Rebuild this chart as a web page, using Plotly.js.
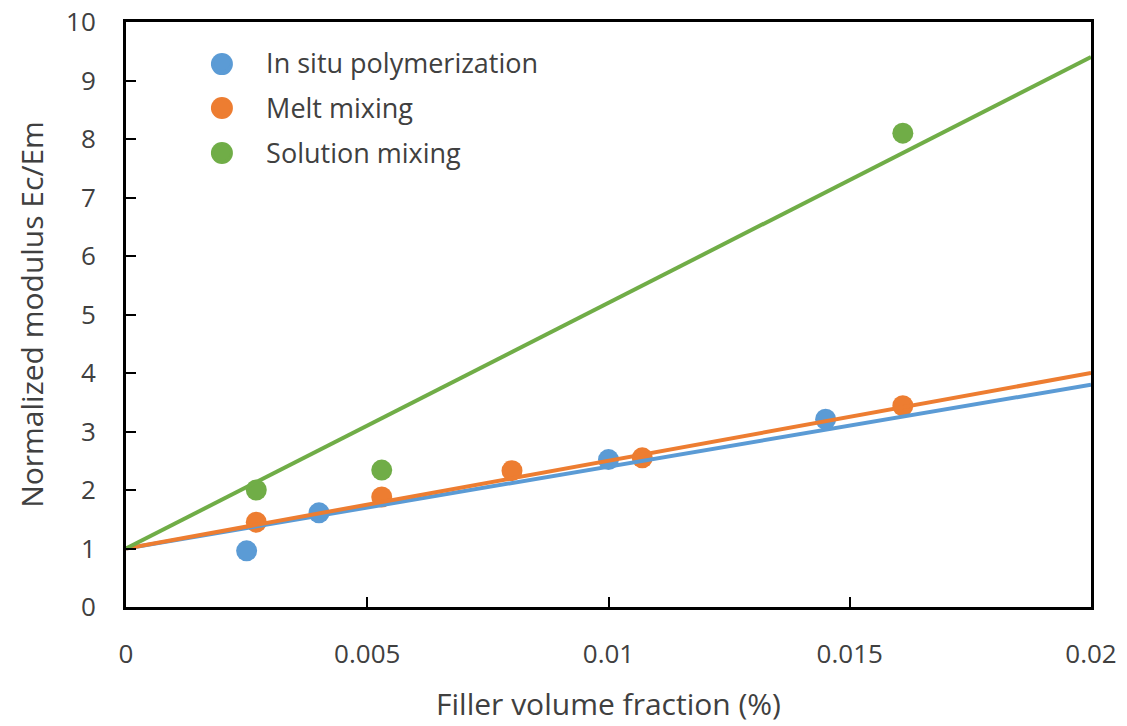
<!DOCTYPE html>
<html>
<head>
<meta charset="utf-8">
<script src="https://cdn.plot.ly/plotly-3.0.1.min.js"></script>
<style>html,body{margin:0;padding:0;background:#fff;}#chart{width:1127px;height:726px;}</style>
</head>
<body>
<div id="chart"></div>
<script>
// Data
const seriesNames = ["In situ polymerization", "Melt mixing", "Solution mixing"];
const inSituX = [0.0025, 0.0040, 0.0100, 0.0145];
const inSituY = [0.96, 1.61, 2.52, 3.21];
const meltX = [0.0027, 0.0053, 0.0080, 0.0107, 0.0161];
const meltY = [1.45, 1.88, 2.33, 2.55, 3.44];
const solutionX = [0.0027, 0.0053, 0.0161];
const solutionY = [2.00, 2.34, 8.10];
// Trendlines (forced through intercept 1)
const fitX = [0, 0.02];
const inSituFit = [1, 3.8];
const meltFit = [1, 4.0];
const solutionFit = [1, 9.4];
const xTicks = [0, 0.005, 0.01, 0.015, 0.02];
const xTickText = ["0", "0.005", "0.01", "0.015", "0.02"];
const yTicks = [0,1,2,3,4,5,6,7,8,9,10];

const colors = ["#5B9BD5", "#ED7D31", "#70AD47"];
const font = "Open Sans, Noto Sans, sans-serif";
const txt = "#404040";

function pts(x, y, i) {
  return {x: x, y: y, type: "scatter", mode: "markers", name: seriesNames[i],
    legendgroup: "g" + i,
    marker: {color: colors[i], size: 21}, cliponaxis: false};
}
function fit(y, i) {
  return {x: fitX, y: y, type: "scatter", mode: "lines", showlegend: false,
    line: {color: colors[i], width: 4}, hoverinfo: "skip"};
}
const data = [
  pts(inSituX, inSituY, 0), pts(meltX, meltY, 1), pts(solutionX, solutionY, 2),
  fit(inSituFit, 0), fit(meltFit, 1), fit(solutionFit, 2)
];
// enlarge legend symbols (Plotly caps them at 16px)
const legendSymX = 0.0994;
const legendSymY = [0.928, 0.853, 0.776];
const legendShapes = legendSymY.map((yy, i) => ({
  type: "circle", xref: "paper", yref: "paper",
  xsizemode: "pixel", ysizemode: "pixel",
  xanchor: legendSymX, yanchor: yy,
  x0: -11, x1: 11, y0: -11, y1: 11,
  fillcolor: colors[i], line: {width: 0}, layer: "above"
}));
const layout = {
  width: 1127, height: 726,
  margin: {l: 126, r: 36, t: 22, b: 119},
  paper_bgcolor: "#fff", plot_bgcolor: "#fff",
  font: {family: font, color: txt, size: 26},
  showlegend: true,
  shapes: legendShapes,
  legend: {x: 0.054, y: 0.972, xanchor: "left", yanchor: "top",
    font: {size: 27, color: txt, family: font}, bgcolor: "rgba(0,0,0,0)",
    tracegroupgap: 7, itemsizing: "trace", itemwidth: 78},
  xaxis: {range: [0, 0.02], tickvals: xTicks, ticktext: xTickText,
    showgrid: false, zeroline: false, showline: true, linecolor: "#000", linewidth: 3,
    mirror: true, ticks: "inside", ticklen: 10, tickwidth: 2, tickcolor: "#000",
    tickfont: {size: 26, color: txt}, ticklabelstandoff: 22,
    title: {text: "Filler volume fraction (%)", font: {size: 30, color: txt}, standoff: 24}},
  yaxis: {range: [0, 10], tickvals: yTicks,
    showgrid: false, zeroline: false, showline: true, linecolor: "#000", linewidth: 3,
    mirror: true, ticks: "inside", ticklen: 10, tickwidth: 2, tickcolor: "#000",
    tickfont: {size: 26, color: txt}, ticklabelstandoff: 22,
    title: {text: "Normalized modulus Ec/Em", font: {size: 30, color: txt}, standoff: 14}}
};
Plotly.newPlot("chart", data, layout, {staticPlot: true});
</script>
</body>
</html>
